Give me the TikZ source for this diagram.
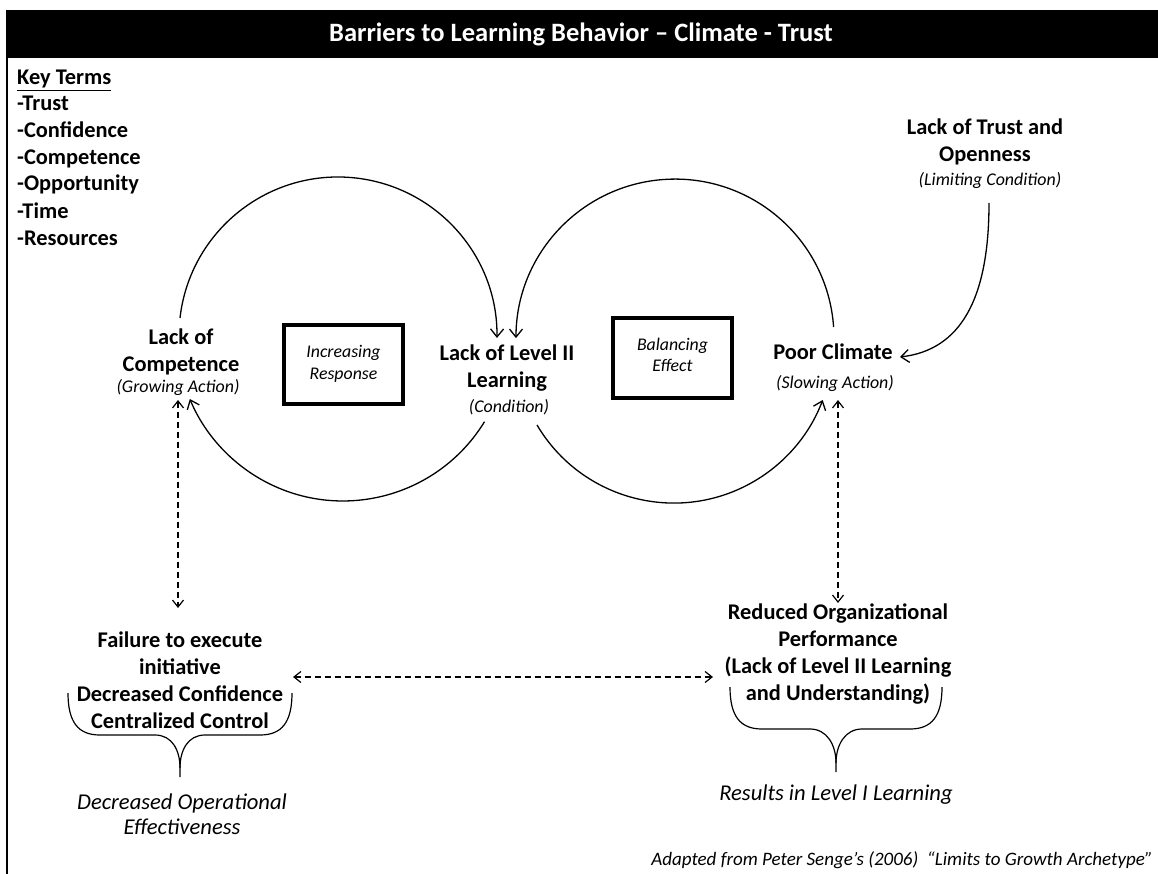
\documentclass[tikz,border=0pt]{standalone}
\usepackage{fontspec}
\setmainfont{Carlito}
\usetikzlibrary{arrows.meta}
\begin{document}
\begin{tikzpicture}[x=1pt,y=-1pt,
  lbl/.style={font=\bfseries\fontsize{22.4}{27}\selectfont, align=center, inner sep=0pt},
  subl/.style={font=\itshape\fontsize{17.9}{21}\selectfont, align=center, inner sep=0pt},
  bigit/.style={font=\itshape\fontsize{22.6}{25}\selectfont, align=center, inner sep=0pt},
  kt/.style={font=\bfseries\fontsize{22.4}{27}\selectfont, inner sep=0pt, anchor=base west},
  loopbox/.style={draw, line width=3.5pt},
  boxtxt/.style={font=\itshape\fontsize{17.8}{21.5}\selectfont, align=center, inner sep=0pt},
  arr/.style={-{Straight Barb[length=8pt,width=13pt]}, line width=1.3pt},
  darr/.style={{Straight Barb[length=7pt,width=11pt]}-{Straight Barb[length=7pt,width=11pt]}, dash pattern=on 6pt off 4pt, line width=1.2pt},
  brc/.style={line width=1.2pt}
]
\useasboundingbox (0,0) rectangle (1158,874);
% frame
\fill[black] (6,10) rectangle (1158,58);
\draw[line width=2pt] (7.3,58) -- (7.3,874);
\node[font=\bfseries\fontsize{26.5}{30}\selectfont, text=white, inner sep=0pt] (title) at (581,34) {Barriers to Learning Behavior -- Climate - Trust};
% key terms
\node[kt] (k0) at (17,85) {\underline{Key Terms}};
\node[kt] (k1) at (17,111) {-Trust};
\node[kt] (k2) at (17,138) {-Confidence};
\node[kt] (k3) at (17,165) {-Competence};
\node[kt] (k4) at (17,191) {-Opportunity};
\node[kt] (k5) at (17,219) {-Time};
\node[kt] (k6) at (17,246) {-Resources};
% main nodes
\node[lbl] (comp) at (181,352) {Lack of\\Competence};
\node[subl] (compsub) at (178,387) {(Growing Action)};
\node[loopbox, minimum width=119pt, minimum height=79pt] (incbox) at (343.5,364.5) {};
\node[boxtxt] (inctxt) at (343.5,364) {Increasing\\Response};
\node[lbl] (lvl) at (507,368) {Lack of Level II\\Learning};
\node[subl] (lvlsub) at (509,407) {(Condition)};
\node[loopbox, minimum width=119pt, minimum height=80pt] (balbox) at (672.5,358) {};
\node[boxtxt] (baltxt) at (672.5,355) {Balancing\\Effect};
\node[lbl] (poor) at (833,352) {Poor Climate};
\node[subl] (poorsub) at (835,383) {(Slowing Action)};
\node[lbl] (trust) at (985,142) {Lack of Trust and\\Openness};
\node[subl] (trustsub) at (990,180) {(Limiting Condition)};
\node[lbl] (fail) at (180,680) {Failure to execute\\initiative\\Decreased Confidence\\Centralized Control};
\node[lbl] (red) at (838,654) {Reduced Organizational\\Performance\\(Lack of Level II Learning\\and Understanding)};
\node[bigit] (doe) at (182,814) {Decreased Operational\\Effectiveness};
\node[bigit] (res) at (836,795) {Results in Level I Learning};
\node[font=\itshape\fontsize{19}{22}\selectfont, inner sep=0pt, anchor=east] (adapt) at (1153,860) {Adapted from Peter Senge's (2006)\ \ ``Limits to Growth Archetype''};
% loop arcs
\coordinate (ulS) at (180,318);
\coordinate (llS) at (484.5,421.7);
\coordinate (urS) at (833.6,327);
\coordinate (lrS) at (537,425);
\draw[arr] (ulS) arc[start angle=-173.5, end angle=0.7, radius=159];
\draw[arr] (llS) arc[start angle=31.5, end angle=157.3, radius=166];
\draw[arr] (urS) arc[start angle=-4, end angle=-180, radius=159];
\draw[arr] (lrS) arc[start angle=149.4, end angle=20.6, radius=159];
% limiting condition arrow
\coordinate (trS) at (989,203);
\coordinate (trE) at (900,357);
\draw[arr] (trS) .. controls (989,300) and (960,350) .. (trE);
% dashed links
\coordinate (dl1) at (178,400);
\coordinate (dl2) at (178,608);
\coordinate (dr1) at (838,400);
\coordinate (dr2) at (838,603);
\coordinate (dh1) at (293,677);
\coordinate (dh2) at (713,677);
\draw[darr] (dl1) -- (dl2);
\draw[darr] (dr1) -- (dr2);
\draw[darr] (dh1) -- (dh2);
% braces
\draw[brc] (68,693) .. controls (68,722) and (78,735) .. (100,735) -- (155,735) .. controls (172,735) and (180,750) .. (180,768) -- (180,777);
\draw[brc] (292,693) .. controls (292,722) and (282,735) .. (260,735) -- (205,735) .. controls (188,735) and (180,750) .. (180,768);
\draw[brc] (730,687) .. controls (730,716) and (740,729) .. (762,729) -- (810,729) .. controls (827,729) and (836,745) .. (836,763) -- (836,772);
\draw[brc] (942,687) .. controls (942,716) and (932,729) .. (910,729) -- (862,729) .. controls (845,729) and (836,745) .. (836,763);
\end{tikzpicture}
\end{document}
